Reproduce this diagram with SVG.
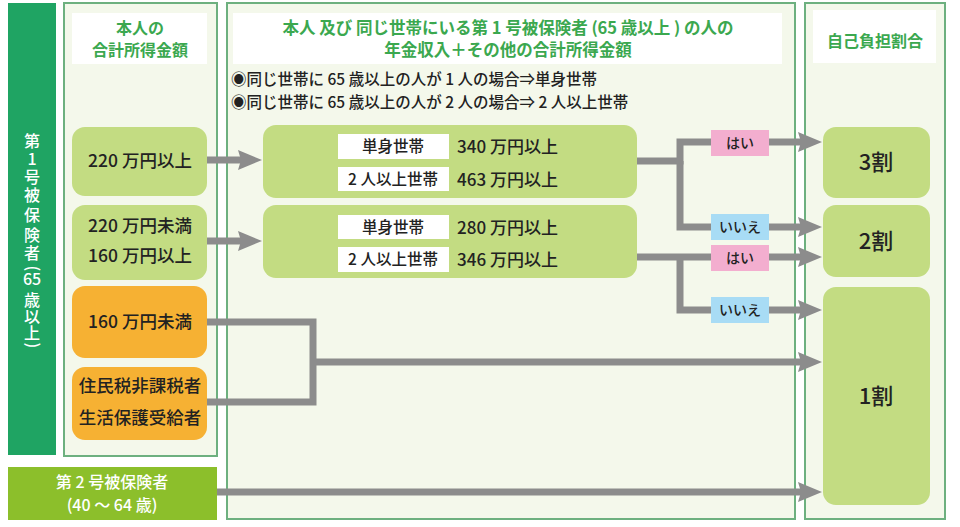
<svg xmlns="http://www.w3.org/2000/svg" width="960" height="527" viewBox="0 0 960 527">
<style>
text{font-family:"Noto Sans CJK JP","Noto Sans",sans-serif;}
.panel{fill:#F4F8EB;stroke:#6DB07F;stroke-width:2;}
.hdr{fill:#FFFFFF;}
.ht{fill:#3BA84F;font-size:16px;font-weight:700;text-anchor:middle;}
.ht2{fill:#3BA84F;font-size:16.5px;font-weight:700;text-anchor:middle;}
.note{fill:#222;font-size:15.5px;font-weight:500;}
.ng{fill:#C3DC82;}
.no{fill:#F6B133;}
.t{fill:#222;font-size:17.5px;font-weight:500;text-anchor:middle;}
.tv{fill:#222;font-size:17px;font-weight:500;}
.wb{fill:#FFFFFF;}
.tw{fill:#222;font-size:15.5px;font-weight:500;text-anchor:middle;}
.vt{fill:#FFFFFF;font-size:16px;font-weight:500;text-anchor:middle;}
.big{fill:#222;font-size:22px;font-weight:500;text-anchor:middle;}
.con{fill:none;stroke:#8C8C8C;stroke-width:7;stroke-linejoin:miter;}
.arr{marker-end:url(#ah);}
.yes{fill:#F3AECF;}
.no2{fill:#A8DCF5;}
.lt{fill:#222;font-size:14px;font-weight:500;text-anchor:middle;}
</style>
<defs>
<marker id="ah" viewBox="0 0 24 20" refX="8" refY="10" markerWidth="24" markerHeight="20" markerUnits="userSpaceOnUse" orient="auto">
<path d="M0,0 L24,10 L0,20 L3,10 Z" fill="#8C8C8C"/>
</marker>
</defs>
<rect width="960" height="527" fill="#FFFFFF"/>

<g id="panels">
<rect class="panel" x="64" y="3" width="153" height="453"/>
<rect class="panel" x="227" y="3" width="568" height="516"/>
<rect class="panel" x="805" y="3" width="140" height="516"/>
</g>

<g id="side1">
<rect x="8" y="3" width="48" height="452" fill="#1FA463"/>
<text class="vt" x="32 32 32 32 32 32 32 29.6 27.5 36.5 32 32 32 29.6" y="147 165 183 201 221 241 259 265.5 285 285 306 323 339 342.5" rotate="0 0 0 0 0 0 0 90 0 0 0 0 0 90">第1号被保険者(65歳以上)</text>
</g>

<g id="side2">
<rect x="8" y="467" width="209" height="53" fill="#8CBF2B"/>
<text class="vt" x="112" y="488" fill="#F2F7E4">第 2 号被保険者</text>
<text class="vt" x="112" y="511" fill="#F2F7E4">(40 ～ 64 歳)</text>
</g>

<g id="hdr1">
<rect class="hdr" x="72" y="13" width="135" height="51"/>
<text class="ht" x="140" y="34">本人の</text>
<text class="ht" x="140" y="56">合計所得金額</text>
</g>

<g id="hdr2">
<rect class="hdr" x="233" y="13" width="549" height="51"/>
<text class="ht2" x="508" y="34">本人 及び 同じ世帯にいる第 1 号被保険者 (65 歳以上 ) の人の</text>
<text class="ht2" x="508" y="56">年金収入＋その他の合計所得金額</text>
<text class="note" x="231" y="85">◉同じ世帯に 65 歳以上の人が 1 人の場合⇒単身世帯</text>
<text class="note" x="231" y="108">◉同じ世帯に 65 歳以上の人が 2 人の場合⇒ 2 人以上世帯</text>
</g>

<g id="hdr3">
<rect class="hdr" x="813" y="10" width="123" height="53"/>
<text class="ht" x="875" y="47">自己負担割合</text>
</g>

<g id="connectors">
<path class="con arr" d="M207,160 H246"/>
<path class="con arr" d="M207,241 H246"/>
<path class="con arr" d="M637,161 H680 V142 H806"/>
<path class="con arr" d="M680,161 V227 H806"/>
<path class="con arr" d="M637,257 H806"/>
<path class="con arr" d="M680,257 V310 H806"/>
<path class="con" d="M207,322 H313 V402 H207"/>
<path class="con arr" d="M313,362 H806"/>
<path class="con arr" d="M217,492 H806"/>
</g>

<g id="n220over">
<rect class="ng" x="72" y="127" width="135" height="69" rx="13"/>
<text class="t" x="140" y="167">220 万円以上</text>
</g>

<g id="n160over">
<rect class="ng" x="72" y="205" width="135" height="75" rx="13"/>
<text class="t" x="140" y="232">220 万円未満</text>
<text class="t" x="140" y="262">160 万円以上</text>
</g>

<g id="n160under">
<rect class="no" x="72" y="286" width="135" height="72" rx="13"/>
<text class="t" x="140" y="328">160 万円未満</text>
</g>

<g id="nexempt">
<rect class="no" x="72" y="367" width="135" height="73" rx="13"/>
<text class="t" x="140" y="392">住民税非課税者</text>
<text class="t" x="140" y="424">生活保護受給者</text>
</g>

<g id="crit1">
<rect class="ng" x="263" y="125" width="374" height="73" rx="13"/>
<rect class="wb" x="338" y="134" width="111" height="25"/>
<text class="tw" x="393" y="152">単身世帯</text>
<rect class="wb" x="338" y="167" width="111" height="24"/>
<text class="tw" x="393" y="185">2 人以上世帯</text>
<text class="tv" x="457" y="153">340 万円以上</text>
<text class="tv" x="457" y="186">463 万円以上</text>
</g>

<g id="crit2">
<rect class="ng" x="263" y="205" width="374" height="73" rx="13"/>
<rect class="wb" x="338" y="215" width="111" height="24"/>
<text class="tw" x="393" y="233">単身世帯</text>
<rect class="wb" x="338" y="247" width="111" height="25"/>
<text class="tw" x="393" y="265">2 人以上世帯</text>
<text class="tv" x="457" y="234">280 万円以上</text>
<text class="tv" x="457" y="266">346 万円以上</text>
</g>

<g id="lbl1"><rect class="yes" x="711" y="130" width="58" height="26"/><text class="lt" x="740" y="148">はい</text></g>
<g id="lbl2"><rect class="no2" x="711" y="214" width="58" height="26"/><text class="lt" x="740" y="232">いいえ</text></g>
<g id="lbl3"><rect class="yes" x="711" y="245" width="58" height="26"/><text class="lt" x="740" y="263">はい</text></g>
<g id="lbl4"><rect class="no2" x="711" y="297" width="58" height="26"/><text class="lt" x="740" y="315">いいえ</text></g>

<g id="r3">
<rect class="ng" x="823" y="127" width="107" height="71" rx="13"/>
<text class="big" x="876" y="170">3割</text>
</g>
<g id="r2">
<rect class="ng" x="823" y="205" width="107" height="72" rx="13"/>
<text class="big" x="876" y="249">2割</text>
</g>
<g id="r1">
<rect class="ng" x="823" y="287" width="107" height="218" rx="13"/>
<text class="big" x="876" y="404">1割</text>
</g>
</svg>
